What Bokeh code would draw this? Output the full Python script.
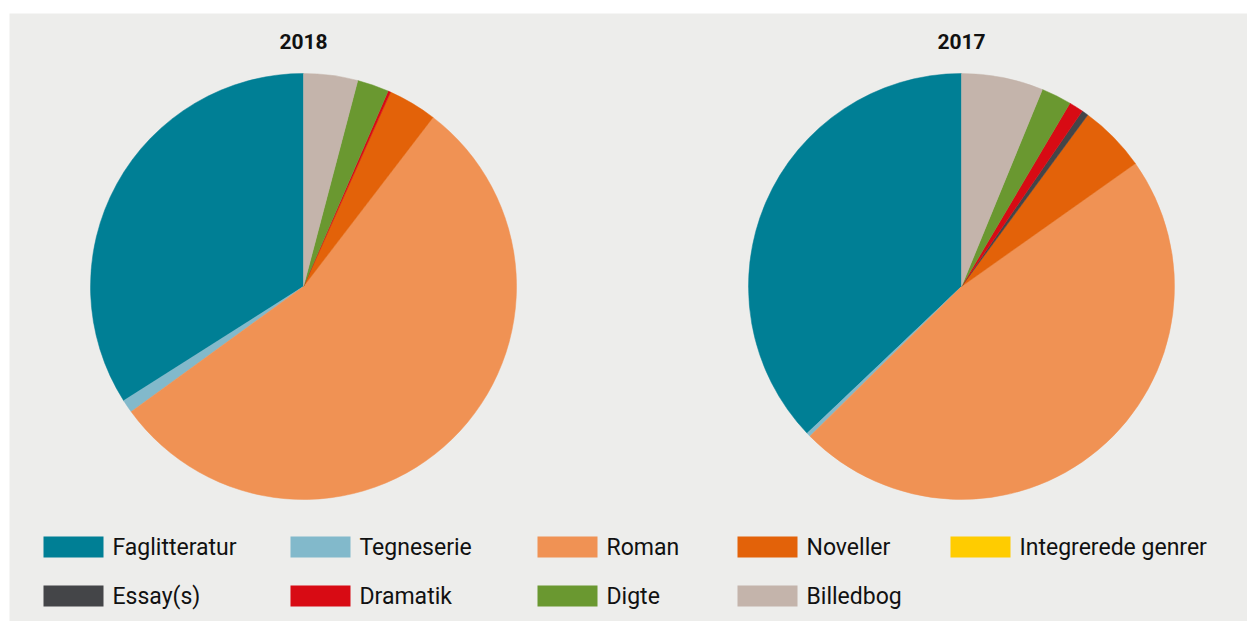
import numpy as np
from bokeh.plotting import figure
from bokeh.models import ColumnDataSource, Range1d
from bokeh.core.properties import value
from bokeh.embed import file_html
from bokeh.resources import INLINE

# ---- data ----
categories = ["Faglitteratur", "Tegneserie", "Roman", "Noveller", "Integrerede genrer",
              "Essay(s)", "Dramatik", "Digte", "Billedbog"]
values_2018 = [34.0, 1.0, 54.6, 3.7, 0.0, 0.0, 0.2, 2.4, 4.1]
values_2017 = [37.1, 0.3, 47.4, 5.1, 0.0, 0.5, 1.1, 2.3, 6.2]
years = ["2018", "2017"]
colors = ["#007F95", "#82B9CB", "#F09254", "#E36209", "#FFCC00",
          "#444548", "#D80B14", "#6A9830", "#C4B4AB"]

# ---- layout (pixel-like data units) ----
BG = "#EDEDEB"
FONT = "Roboto"
W, H = 1247, 621
p = figure(width=W, height=H, x_range=Range1d(9, 1247), y_range=Range1d(0, 608),
           output_backend="svg", toolbar_location=None,
           x_axis_type=None, y_axis_type=None,
           min_border_left=9, min_border_right=0, min_border_top=13, min_border_bottom=0,
           background_fill_color=BG, border_fill_color="white", outline_line_color=None)
p.grid.visible = False

centers_x = [303, 961]
center_y = 335
radius = 213

for vals, cx, yr in zip([values_2018, values_2017], centers_x, years):
    v = np.array(vals, dtype=float)
    frac = v / v.sum()
    cum = np.cumsum(frac)
    start = np.pi / 2 + 2 * np.pi * (cum - frac)
    end = np.pi / 2 + 2 * np.pi * cum
    mask = v > 0
    src = ColumnDataSource(dict(
        start=start[mask], end=end[mask],
        color=[c for c, m in zip(colors, mask) if m]))
    p.wedge(x=cx, y=center_y, radius=radius, start_angle="start", end_angle="end",
            direction="anticlock", fill_color="color", line_color="color",
            line_width=0.5, source=src)
    p.text(x=[cx], y=[580], text=[yr], text_font=value(FONT), text_font_style="bold",
           text_font_size="21px", text_align="center", text_baseline="middle",
           text_color="#111111")

# ---- legend ----
row_y = [74.5, 25.5]
col_x = [[43, 290, 537, 737, 950], [43, 290, 537, 737]]
lx, ly, lc, lt = [], [], [], []
i = 0
for r, xs in enumerate(col_x):
    for x0 in xs:
        lx.append(x0)
        ly.append(row_y[r])
        lc.append(colors[i])
        lt.append(categories[i])
        i += 1
lsrc = ColumnDataSource(dict(x=[x + 30 for x in lx], tx=[x + 69 for x in lx], y=ly, color=lc, label=lt))
p.rect(x="x", y="y", width=60, height=21, fill_color="color", line_color=None, source=lsrc)
p.text(x="tx", y="y", text="label", text_font=value(FONT), text_font_size="23px",
       text_baseline="middle", text_align="left", text_color="#111111", source=lsrc)

open("out.html", "w").write(file_html(p, INLINE))
